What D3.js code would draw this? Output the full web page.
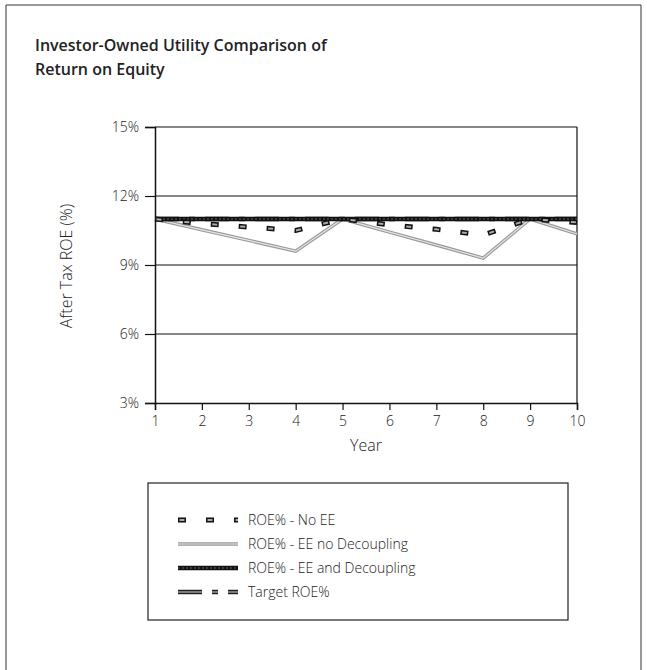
<!DOCTYPE html>
<html>
<head>
<meta charset="utf-8">
<script src="https://cdn.jsdelivr.net/npm/d3@7"></script>
<style>
  body { margin: 0; background: #fff; }
  svg text { font-family: "Open Sans", "Noto Sans", sans-serif; fill: #222; }
</style>
</head>
<body>
<script>
'use strict';

// values (ROE %, years 1..10)
const years = [1, 2, 3, 4, 5, 6, 7, 8, 9, 10];
const roeNoEE = [11.0, 10.8, 10.65, 10.5, 11.0, 10.75, 10.55, 10.3, 11.0, 10.85];
const roeEENoDecoupling = [11.0, 10.53, 10.07, 9.6, 11.0, 10.43, 9.87, 9.3, 11.0, 10.35];
const roeEEDecoupling = [11, 11, 11, 11, 11, 11, 11, 11, 11, 11];
const targetROE = [11, 11, 11, 11, 11, 11, 11, 11, 11, 11];
const yTicks = [3, 6, 9, 12, 15];
const seriesNames = ['ROE% - No EE', 'ROE% - EE no Decoupling', 'ROE% - EE and Decoupling', 'Target ROE%'];

const W = 647, H = 670;
const plot = {left: 155, right: 577, top: 127, bottom: 403};

const svg = d3.select('body')
    .append('svg')
    .attr('width', W)
    .attr('height', H);

// outer frame
svg.append('path')
    .attr('d', `M6,${H + 2}V5H641V${H + 2}`)
    .attr('fill', 'none')
    .attr('stroke', '#333')
    .attr('stroke-width', 1);

svg.append('text')
    .attr('x', 35).attr('y', 51)
    .style('font-size', '16px').style('font-weight', 600)
    .text('Investor-Owned Utility Comparison of');
svg.append('text')
    .attr('x', 35).attr('y', 75)
    .style('font-size', '16px').style('font-weight', 600)
    .text('Return on Equity');

const x = d3.scaleLinear().domain([1, 10]).range([plot.left, plot.right]);
const y = d3.scaleLinear().domain([3, 15]).range([plot.bottom, plot.top]);

// gridlines
svg.append('g')
    .selectAll('line')
    .data(yTicks.slice(1))
    .enter()
    .append('line')
        .attr('x1', plot.left).attr('x2', plot.right)
        .attr('y1', d => y(d)).attr('y2', d => y(d))
        .attr('stroke', '#111').attr('stroke-width', 1.2);

// right border of plot
svg.append('line')
    .attr('x1', plot.right).attr('x2', plot.right)
    .attr('y1', plot.top).attr('y2', plot.bottom)
    .attr('stroke', '#111').attr('stroke-width', 1.2);

const yAxis = svg.append('g')
    .attr('transform', `translate(${plot.left},0)`)
    .call(d3.axisLeft(y).tickValues(yTicks).tickFormat(d => d + '%').tickSize(10).tickPadding(6));
const xAxis = svg.append('g')
    .attr('transform', `translate(0,${plot.bottom})`)
    .call(d3.axisBottom(x).tickValues(years).tickFormat(d3.format('d')).tickSize(7).tickPadding(6));

[yAxis, xAxis].forEach(a => {
    a.select('.domain').attr('stroke', '#111').attr('stroke-width', 1.5);
    a.selectAll('.tick line').attr('stroke', '#111').attr('stroke-width', 1.2);
    a.selectAll('.tick text').style('font-size', '14px').style('font-weight', 300).attr('fill', '#222');
});

svg.append('text')
    .attr('transform', 'translate(72,266) rotate(-90)')
    .attr('text-anchor', 'middle')
    .style('font-size', '16px').style('font-weight', 300)
    .text('After Tax ROE (%)');

svg.append('text')
    .attr('x', (plot.left + plot.right) / 2).attr('y', 451)
    .attr('text-anchor', 'middle')
    .style('font-size', '16px').style('font-weight', 300)
    .text('Year');

const line = d3.line().x((d, i) => x(years[i])).y(d => y(d));

// styles of each series, drawn as stacked strokes
const styles = [
    [ {stroke: '#111', width: 5, dash: '8,20'}, {stroke: '#aaa', width: 2, dash: '5,23', offset: -1.5} ],
    [ {stroke: '#999', width: 3.5}, {stroke: '#e6e6e6', width: 1.2} ],
    [ {stroke: '#111', width: 4.5}, {stroke: '#666', width: 1, dash: '2,2'} ],
    [ {stroke: '#222', width: 4.5, dash: '24,10,6,10'}, {stroke: '#999', width: 1.5, dash: '24,10,6,10'} ]
];
const seriesData = [roeNoEE, roeEENoDecoupling, roeEEDecoupling, targetROE];
const drawOrder = [1, 3, 2, 0];

drawOrder.forEach(k => {
    styles[k].forEach(s => {
        svg.append('path')
            .datum(seriesData[k])
            .attr('d', line)
            .attr('fill', 'none')
            .attr('stroke', s.stroke)
            .attr('stroke-width', s.width)
            .attr('stroke-dasharray', s.dash || null)
            .attr('stroke-dashoffset', s.offset || 0);
    });
});

// legend
const lg = {x: 148, y: 483, w: 420, h: 137};
svg.append('rect')
    .attr('x', lg.x).attr('y', lg.y).attr('width', lg.w).attr('height', lg.h)
    .attr('fill', 'none').attr('stroke', '#222').attr('stroke-width', 1.2);

const rows = svg.append('g')
    .selectAll('g')
    .data(seriesNames)
    .enter()
    .append('g')
        .attr('transform', (d, i) => `translate(${lg.x + 30},${520 + i * 24})`);

rows.each(function(d, i) {
    const g = d3.select(this);
    styles[i].forEach(s => {
        g.append('line')
            .attr('x1', 0).attr('x2', 60).attr('y1', 0).attr('y2', 0)
            .attr('stroke', s.stroke)
            .attr('stroke-width', s.width)
            .attr('stroke-dasharray', s.dash || null)
            .attr('stroke-dashoffset', s.offset || 0);
    });
    g.append('text')
        .attr('x', 70).attr('y', 5)
        .style('font-size', '14px').style('font-weight', 300)
        .text(d);
});
</script>
</body>
</html>
